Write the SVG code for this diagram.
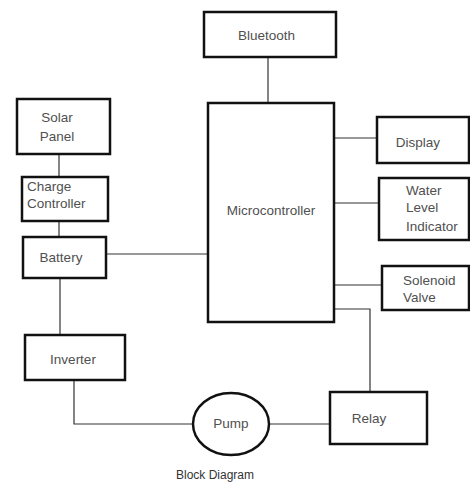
<svg xmlns="http://www.w3.org/2000/svg" width="470" height="484" viewBox="0 0 470 484">
<style>
.box{fill:#fff;stroke:#111;stroke-width:2.5}
.ln{fill:none;stroke:#333;stroke-width:1.2}
text{font-family:"Liberation Sans",Arial,sans-serif;font-size:13.5px;fill:#505050}
.c{text-anchor:middle}
</style>
<rect width="470" height="484" fill="#fff"/>
<g id="connectors">
<line class="ln" x1="268" y1="57" x2="268" y2="103"/>
<line class="ln" x1="59" y1="154" x2="59" y2="177"/>
<line class="ln" x1="59" y1="221" x2="59" y2="237"/>
<line class="ln" x1="106" y1="254" x2="208" y2="254"/>
<line class="ln" x1="60" y1="278" x2="60" y2="335"/>
<polyline class="ln" points="74,380 74,424 193,424"/>
<line class="ln" x1="269" y1="424" x2="330" y2="424"/>
<line class="ln" x1="334" y1="138" x2="377" y2="138"/>
<line class="ln" x1="334" y1="203" x2="379" y2="203"/>
<line class="ln" x1="334" y1="285" x2="382" y2="285"/>
<polyline class="ln" points="334,309 370,309 370,392"/>
</g>
<g id="bluetooth"><rect class="box" x="204" y="12" width="132" height="45"/><text x="238" y="40">Bluetooth</text></g>
<g id="microcontroller"><rect class="box" x="208" y="103" width="126" height="219"/><text class="c" x="271" y="215">Microcontroller</text></g>
<g id="solar-panel"><rect class="box" x="17" y="99" width="93" height="55"/><text class="c" x="57" y="122">Solar</text><text class="c" x="57" y="141">Panel</text></g>
<g id="charge-controller"><rect class="box" x="22" y="177" width="86" height="44"/><text x="27" y="191">Charge</text><text x="27" y="208">Controller</text></g>
<g id="battery"><rect class="box" x="23" y="237" width="83" height="41"/><text class="c" x="61" y="262">Battery</text></g>
<g id="inverter"><rect class="box" x="25" y="335" width="100" height="45"/><text class="c" x="73" y="364">Inverter</text></g>
<g id="pump"><ellipse class="box" cx="231" cy="424" rx="38" ry="31"/><text class="c" x="231" y="428">Pump</text></g>
<g id="relay"><rect class="box" x="330" y="392" width="97" height="52"/><text class="c" x="369" y="423">Relay</text></g>
<g id="display"><rect class="box" x="377" y="117" width="92" height="46"/><text class="c" x="418" y="147">Display</text></g>
<g id="water-level-indicator"><rect class="box" x="379" y="178" width="90" height="62"/><text x="406" y="195">Water</text><text x="406" y="212">Level</text><text x="406" y="231">Indicator</text></g>
<g id="solenoid-valve"><rect class="box" x="382" y="266" width="87" height="44"/><text x="403" y="285">Solenoid</text><text x="403" y="302">Valve</text></g>
<text class="c" x="215" y="479" style="font-size:12px;fill:#333">Block Diagram</text>
</svg>
